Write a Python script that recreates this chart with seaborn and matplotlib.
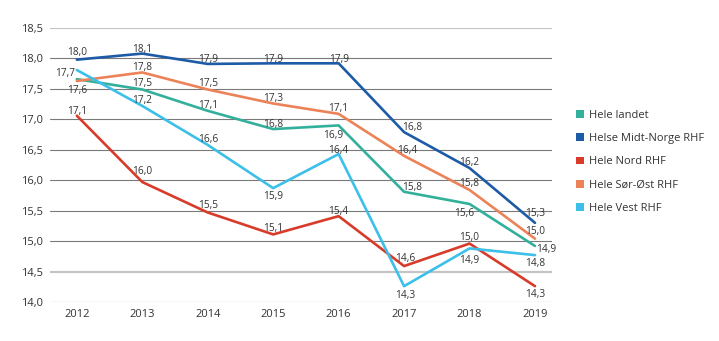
import matplotlib
matplotlib.use("Agg")
import matplotlib.pyplot as plt
from matplotlib.patches import Patch
import seaborn as sns
import pandas as pd

years = [2012, 2013, 2014, 2015, 2016, 2017, 2018, 2019]
series_names = ["Hele landet", "Helse Midt-Norge RHF", "Hele Nord RHF",
                "Hele Sør-Øst RHF", "Hele Vest RHF"]

hele_landet = [17.66, 17.49, 17.14, 16.84, 16.90, 15.81, 15.61, 14.92]
midt_norge = [17.98, 18.08, 17.91, 17.92, 17.92, 16.79, 16.20, 15.30]
nord = [17.06, 15.97, 15.47, 15.11, 15.41, 14.59, 14.96, 14.26]
sor_ost = [17.63, 17.77, 17.49, 17.26, 17.09, 16.40, 15.84, 15.04]
vest = [17.81, 17.22, 16.58, 15.87, 16.43, 14.26, 14.88, 14.77]

colors = ["#33b09b", "#1d5ba6", "#d83b2a", "#ec8257", "#3cbfe8"]
y_ticks = [14.0, 14.5, 15.0, 15.5, 16.0, 16.5, 17.0, 17.5, 18.0, 18.5]

# label placement per point: (dx, dy) in points; None = no label
offsets = {
    "Hele landet": [(-8.6, 5.3), (0, 5.5), (0, 4.8), (0, 4.3), (-3.8, -6), (5.5, 4.3), (-4.1, -6), (8.4, -1.2)],
    "Helse Midt-Norge RHF": [(0, 6), (0, 4), (0, 4), (0, 4), (0, 4), (5.5, 4.5), (0, 5), (0, 8)],
    "Hele Nord RHF": [(0, 4.1), (0, 8.6), (0, 5.8), (0, 5), (0, 4.5), (0.7, 6.7), (0, 5.3), (0, -4.8)],
    "Hele Sør-Øst RHF": [(0, -6), (0, 4.3), (0, 5.5), (0, 4.8), (0, 4.6), (2, 4.6), (0, 5.3), (0, 6.5)],
    "Hele Vest RHF": [None, (0, 4.6), (0, 4.8), (0, -4.8), (0, 3.4), (0.7, -6), (0, -7.7), (0, -4.8)],
}
# the text box centre sits a little above the digits' visual centre
dy_shift = -1.0

values = [hele_landet, midt_norge, nord, sor_ost, vest]
df = pd.DataFrame({
    "år": years * len(series_names),
    "verdi": [v for s in values for v in s],
    "serie": [n for n in series_names for _ in years],
})

sns.set_theme(style="white")
plt.rcParams["font.family"] = ["Open Sans", "DejaVu Sans"]

fig = plt.figure(figsize=(7.19, 3.41), dpi=100)
ax = fig.add_axes([50 / 719, 1 - 302 / 341, (552 - 50) / 719, (302 - 28) / 341])

# horizontal grid: light heavy lines at 18,5 and 14,5, dark thin lines elsewhere
for t in y_ticks:
    if t in (18.5, 14.5):
        ax.axhline(t, color="#c4c4c4", lw=1.6, zorder=0)
    else:
        ax.axhline(t, color="#7a7a7a", lw=0.8, zorder=0)

palette = dict(zip(series_names, colors))
sns.lineplot(data=df, x="år", y="verdi", hue="serie", palette=palette,
             hue_order=series_names, linewidth=1.9, legend=False, ax=ax, zorder=3)

for name, vals in zip(series_names, values):
    for yr, v, off in zip(years, vals, offsets[name]):
        if off is None:
            continue
        ax.annotate(f"{v:.1f}".replace(".", ","), (yr, v),
                    xytext=(off[0], off[1] + dy_shift),
                    textcoords="offset points", ha="center", va="center",
                    fontsize=7.3, color="#333333", zorder=4)

ax.set_xlim(2011.59, 2019.26)
ax.set_ylim(14.0, 18.5)
ax.set_xticks(years)
ax.set_xticklabels([str(y) for y in years])
ax.set_yticks(y_ticks)
ax.set_yticklabels([f"{t:.1f}".replace(".", ",") for t in y_ticks])
ax.tick_params(axis="both", length=0, labelsize=8, colors="#333333")
ax.tick_params(axis="x", pad=5)
ax.tick_params(axis="y", pad=5)
ax.set_xlabel("")
ax.set_ylabel("")
for s in ax.spines.values():
    s.set_visible(False)

handles = [Patch(facecolor=c, edgecolor="none") for c in colors]
fig.legend(handles, series_names, loc="upper left",
           bbox_to_anchor=(566 / 719, 1 - 100 / 341), frameon=False,
           fontsize=8, handlelength=0.7, handleheight=0.7,
           handletextpad=0.5, labelspacing=1.1, labelcolor="#333333")

fig.savefig("out.png", dpi=100)
